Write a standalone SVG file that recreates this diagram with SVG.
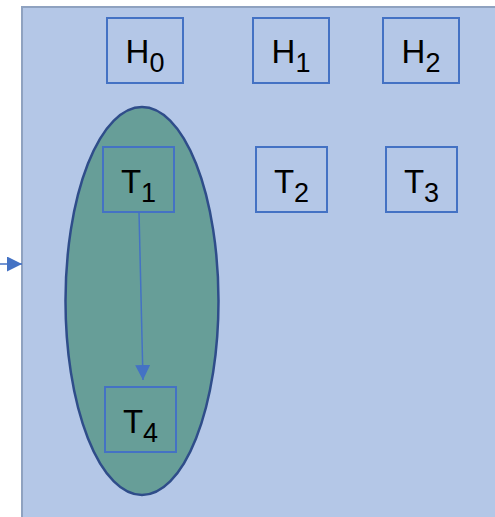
<svg xmlns="http://www.w3.org/2000/svg" width="495" height="517" viewBox="0 0 495 517">
<defs>
<style>
.bg{fill:#B4C7E7;stroke:#8FA2C0;stroke-width:2}
.box{fill:none;stroke:#4472C4;stroke-width:2}
.lbl{font-family:"Liberation Sans",Arial,sans-serif;font-size:33px;fill:#000;text-anchor:middle}
.sub{font-size:27px}
.conn{stroke:#4472C4;stroke-width:1.5;fill:none}
</style>
<marker id="ah" viewBox="0 0 10 10" refX="10" refY="5" markerWidth="15" markerHeight="15" markerUnits="userSpaceOnUse" orient="auto">
<path d="M0,0 L10,5 L0,10 z" fill="#4472C4"/>
</marker>
</defs>
<rect class="bg" x="22" y="7" width="480" height="520"/>
<g id="cluster">
<ellipse cx="142" cy="301" rx="76.5" ry="194" fill="#679E98" stroke="#2F4D8A" stroke-width="2.5"/>
</g>
<g id="H0"><rect class="box" x="107" y="18" width="76" height="65"/><text class="lbl" x="145" y="63">H<tspan class="sub" dy="9">0</tspan></text></g>
<g id="H1"><rect class="box" x="253" y="18" width="76" height="65"/><text class="lbl" x="291" y="63">H<tspan class="sub" dy="9">1</tspan></text></g>
<g id="H2"><rect class="box" x="383" y="18" width="76" height="65"/><text class="lbl" x="421" y="63">H<tspan class="sub" dy="9">2</tspan></text></g>
<g id="T1"><rect class="box" x="103" y="147" width="71" height="65"/><text class="lbl" x="138.5" y="193">T<tspan class="sub" dy="9">1</tspan></text></g>
<g id="T2"><rect class="box" x="256" y="147" width="71" height="65"/><text class="lbl" x="291.5" y="193">T<tspan class="sub" dy="9">2</tspan></text></g>
<g id="T3"><rect class="box" x="386" y="147" width="71" height="65"/><text class="lbl" x="421.5" y="193">T<tspan class="sub" dy="9">3</tspan></text></g>
<g id="T4"><rect class="box" x="105" y="387" width="71" height="65"/><text class="lbl" x="140.5" y="433">T<tspan class="sub" dy="9">4</tspan></text></g>
<g id="connectors">
<line class="conn" x1="139" y1="212" x2="143" y2="380" marker-end="url(#ah)"/>
<line class="conn" x1="0" y1="264" x2="22" y2="264" marker-end="url(#ah)"/>
</g>
</svg>
